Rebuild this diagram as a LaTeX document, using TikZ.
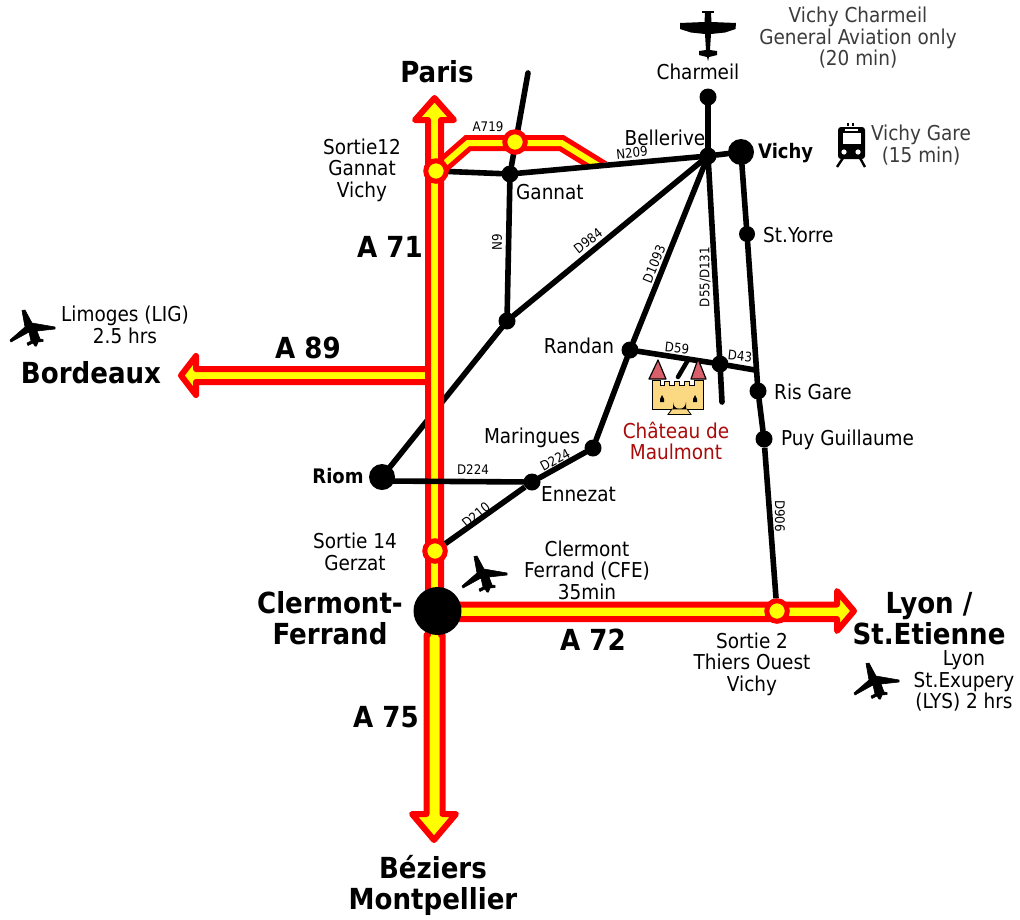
\documentclass[tikz,border=0pt]{standalone}
\usepackage{fontspec}
\setmainfont{DejaVu Sans Condensed}
\usetikzlibrary{calc}
\definecolor{hwred}{RGB}{255,0,0}
\definecolor{hwyel}{RGB}{255,255,0}
\definecolor{txtgrey}{RGB}{60,60,60}
\definecolor{castred}{RGB}{170,10,10}
\definecolor{castwall}{RGB}{251,216,130}
\definecolor{castroof}{RGB}{217,96,106}
\tikzset{
 x=1pt,y=-1pt,
 road/.style={line width=5.6pt,black,line cap=round},
 roadb/.style={line width=5.6pt,black},
 dot/.style={circle,fill=black,inner sep=0pt,minimum size=17pt},
 bigdot/.style={circle,fill=black,inner sep=0pt,minimum size=26pt},
 exit/.style={circle,fill=hwyel,draw=hwred,line width=5pt,inner sep=0pt,minimum size=20.5pt},
 hw/.style={draw=hwred,fill=hwyel,line width=6pt,line join=round},
 lab/.style={font=\fontsize{20.5}{21.5}\selectfont,align=center,inner sep=0pt},
 glab/.style={lab,text=txtgrey},
 bsmall/.style={lab,font=\fontsize{20}{21}\selectfont\bfseries},
 big/.style={font=\fontsize{29}{31}\selectfont\bfseries,align=center,inner sep=0pt},
 tiny/.style={font=\fontsize{13.2}{14}\selectfont,inner sep=0pt},
 jet/.pic={\fill[black,draw=black,line width=.6pt,line join=round]
   (-11,-18.5)--(-8,-19)--(-1,-6)--(22,-2)--(22,0)--(4,2)--(7,10)--(10,10.5)--(10,12.5)--(5,13)--(3.5,17)--(2,17)--(0,14)--(-5,16.5)--(-6,14)--(-2,12)--(-4,3)--(-22,13)--(-23,11)--(-8,-2)--cycle;},
}
\begin{document}
\begin{tikzpicture}
\useasboundingbox (0,0) rectangle (1020,919);
\fill[white] (0,0) rectangle (1020,919);
% junction nodes
\node[dot] (gannat) at (510,174) {};
\node[dot] (belle) at (708,156) {};
\node[bigdot] (vichy) at (741,152) {};
\node[dot] (charm) at (708,97) {};
\node[dot] (n9) at (507,321) {};
\node[bigdot] (riom) at (382,477) {};
\node[dot] (randan) at (630,350) {};
\node[dot] (maring) at (593,448) {};
\node[dot] (enn) at (532,482) {};
\node[dot] (d59j) at (720,364) {};
\node[dot,minimum size=16pt] (yorre) at (747,234) {};
\node[dot] (ris) at (758,391) {};
\node[dot] (puy) at (764,439) {};
\coordinate (gtop) at (528,73);
\coordinate (stub) at (722,402);
\coordinate (d43e) at (755,370);
\coordinate (riomE) at (385,481);
\coordinate (c1) at (678,377);
\coordinate (c2) at (688,360);
\coordinate (a1) at (468,143);
\coordinate (a2) at (561.5,143);
\coordinate (a3) at (620,179);
\coordinate (s12) at (436,171);
% roads under the motorways
\draw[road] (riom) -- (n9) -- (belle);
\draw[road] (gannat) -- (s12);
% A719
\begin{scope}
\clip (430,120) -- (640,120) -- (640,158.5) -- (510,173.5) -- (470,173) -- (430,180) -- cycle;
\draw[hwred,line width=16pt,line join=miter] (s12) -- (a1) -- (a2) -- (a3);
\draw[hwyel,line width=6pt,line join=miter] (s12) -- (a1) -- (a2) -- (a3);
\end{scope}
\draw[road] (gtop) -- (gannat);
% motorways
\path[hw] (445,604.5) -- (837,604.5) -- (837,591) -- (854,611) -- (837,631) -- (837,619) -- (445,619) -- cycle;
\path[hw] (430,369) -- (196,369) -- (196,356) -- (181,375.5) -- (196,395) -- (196,382) -- (430,382) -- cycle;
\path[hw] (434.5,98) -- (454,120) -- (441,120) -- (441,635) -- (442.5,635) -- (442.5,814) -- (456,814) -- (434,840) -- (412,814) -- (426.5,814) -- (426.5,635) -- (428,635) -- (428,120) -- (415,120) -- cycle;
\node[exit] (sortie12) at (s12) {};
\node[exit] (a719n) at (515,142) {};
\node[exit] (sortie14) at (435,551) {};
\node[exit] (sortie2) at (777,611) {};
\node[bigdot,minimum size=48pt] (clermont) at (437.5,611) {};
% roads
\draw[road] (gannat) -- (belle);
\draw[road] (gannat) -- (n9);
\draw[road] (charm) -- (belle);
\draw[road] (belle) -- (vichy);
\draw[road] (belle) -- (randan);
\draw[road] (belle) -- (d59j) -- (stub);
\draw[road] (randan) -- (maring) -- (enn);
\draw[roadb] (enn) -- (sortie14);
\draw[road] (riomE) -- (enn);
\draw[road] (randan) -- (d59j) -- (d43e);
\draw[road] (vichy) -- (yorre) -- (ris) -- (puy);
\draw[roadb] (puy) -- (sortie2);
% castle
\fill[castwall,draw=black,line width=1pt] (652,380) -- (660,380) -- (660,385) -- (664,385) -- (664,381) -- (669,381) -- (669,385) -- (674,385) -- (674,381) -- (679,381) -- (679,385) -- (684,385) -- (684,381) -- (689,381) -- (689,385) -- (694,385) -- (694,380) -- (703,380) -- (703,409) -- (652,409) -- cycle;
\fill[castroof,draw=black,line width=1.2pt,line join=round] (649,379) -- (658,360) -- (666,379) -- cycle;
\fill[castroof,draw=black,line width=1.2pt,line join=round] (691,379) -- (698,359) -- (706,379) -- cycle;
\fill[black] (673,409) -- (673,402) arc[start angle=180,end angle=360,x radius=6.5,y radius=-7] -- (686,409) -- cycle;
\fill[castwall,draw=black,line width=.8pt] (672,409) -- (687,409) -- (691,414.5) -- (668,414.5) -- cycle;
\fill[black] (662,395) -- (664,399) -- (664,402) -- (660,402) -- (660,399) -- cycle;
\fill[black] (695,395) -- (697,399) -- (697,402) -- (693,402) -- (693,399) -- cycle;
\draw[line width=4.5pt,line cap=round] (c1) -- (c2);
% light aircraft
\fill[black] (701.5,11) rectangle (714,13);
\fill[black] (705,13) -- (711,13) -- (711.5,22) -- (736,23) -- (735.5,29) -- (725,32.5) -- (711,34) -- (710,50) -- (717,51) -- (717,55) -- (709,57) -- (708,61) -- (707,57) -- (699,55) -- (699,51) -- (706,50) -- (705,34) -- (691,32.5) -- (680,29) -- (680,23) -- (704.5,22) -- cycle;
% train
\fill[black] (847,123) rectangle (849,126); \fill[black] (852,123) rectangle (854,126);
\fill[black,rounded corners=3pt] (838,127) rectangle (865,159);
\fill[white] (842.5,133) rectangle (860.5,144);
\fill[white] (845,129) rectangle (858,131);
\fill[white] (844,152) circle (2.6);
\fill[white] (858,152) circle (2.6);
\draw[line width=2.4pt] (843,158) -- (837,167) (860,158) -- (865,167);
% jets
\pic at (33,329) {jet};
\pic at (485,575) {jet};
\pic at (877,682) {jet};
% labels
\node[big] (tparis) at (437,72) {Paris};
\node[big] (tbord) at (91,373) {Bordeaux};
\node[big] (tcf) at (330,618) {Clermont-\\Ferrand};
\node[big] (tlyon) at (929,619) {Lyon /\\St.Etienne};
\node[big] (tbez) at (433,885) {Béziers\\Montpellier};
\node[big] (ta71) at (390,247) {A 71};
\node[big] (ta89) at (308,348) {A 89};
\node[big] (ta72) at (593,640) {A 72};
\node[big] (ta75) at (386,717) {A 75};
\node[lab] (ts12) at (362,170) {Sortie12\\Gannat\\Vichy};
\node[lab,anchor=west] (tgannat) at (516,192) {Gannat};
\node[lab] (tch) at (698,72) {Charmeil};
\node[lab] (tbel) at (665,138) {Bellerive};
\node[bsmall,anchor=west] (tvichy) at (758,153) {Vichy};
\node[lab,anchor=west] (tyorre) at (763,235) {St.Yorre};
\node[lab] (tran) at (579,346) {Randan};
\node[lab,anchor=west] (tris) at (774,392) {Ris Gare};
\node[lab,anchor=west] (tpuy) at (781,440) {Puy Guillaume};
\node[lab] (tmar) at (532,438) {Maringues};
\node[lab,anchor=west] (tenn) at (541,494) {Ennezat};
\node[bsmall] (triom) at (338,476) {Riom};
\node[lab] (ts14) at (355,552) {Sortie 14\\Gerzat};
\node[lab] (tcfe) at (587,570) {Clermont\\Ferrand (CFE)\\35min};
\node[lab] (ts2) at (752,664) {Sortie 2\\Thiers Ouest\\Vichy};
\node[lab] (tlys) at (964,681) {Lyon\\St.Exupery\\(LYS) 2 hrs};
\node[lab] (tlim) at (125,325) {Limoges (LIG)\\2.5 hrs};
\node[glab] (tcharm) at (858,38) {Vichy Charmeil\\General Aviation only\\(20 min)};
\node[glab] (tgare) at (921,145) {Vichy Gare\\(15 min)};
\node[lab,text=castred] (tchat) at (676,441) {Château de\\Maulmont};
% road numbers
\node[tiny] (ra719) at (488,127) {A719};
\node[tiny,rotate=6] (rn209) at (632,153) {N209};
\node[tiny,rotate=90] (rn9) at (497,242) {N9};
\node[tiny,rotate=38] (rd984) at (588,241) {D984};
\node[tiny,rotate=68] (rd1093) at (654,264) {D1093};
\node[tiny,rotate=90] (rd55) at (705,277) {D55/D131};
\node[tiny,rotate=-6] (rd59) at (677,348) {D59};
\node[tiny,rotate=-6] (rd43) at (740,356) {D43};
\node[tiny] (rd224h) at (473,470) {D224};
\node[tiny,rotate=28] (rd224d) at (555,460) {D224};
\node[tiny,rotate=40] (rd210) at (476,515) {D210};
\node[tiny,rotate=-90] (rd906) at (780,516) {D906};
\end{tikzpicture}
\end{document}
